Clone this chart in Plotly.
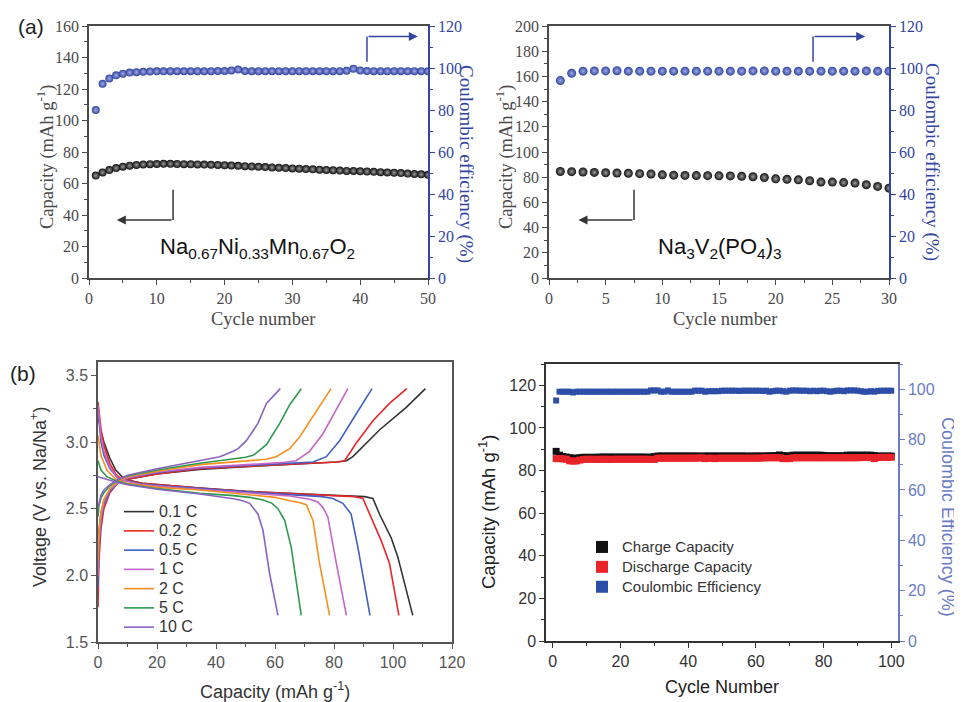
import plotly.graph_objects as go

# ---------------- (a) left : Na0.67Ni0.33Mn0.67O2 ----------------
nnm_cycles = list(range(1, 51))
nnm_capacity = [65.0, 67.0, 68.5, 69.8, 70.7, 71.3, 71.8, 72.1, 72.3, 72.4,
                72.5, 72.5, 72.4, 72.3, 72.2, 72.1, 72.0, 71.9, 71.8, 71.6,
                71.4, 71.2, 71.0, 70.8, 70.6, 70.4, 70.2, 70.0, 69.8, 69.6,
                69.4, 69.2, 69.0, 68.8, 68.6, 68.4, 68.2, 68.0, 68.0, 67.8,
                67.6, 67.4, 67.2, 67.0, 66.8, 66.6, 66.3, 66.0, 65.8, 65.5]
nnm_ce = [80.0, 92.5, 95.0, 96.5, 97.3, 97.8, 98.0, 98.2, 98.3, 98.4,
          98.4, 98.5, 98.5, 98.5, 98.5, 98.5, 98.5, 98.5, 98.6, 98.6,
          98.8, 99.3, 98.6, 98.5, 98.5, 98.5, 98.5, 98.5, 98.5, 98.5,
          98.5, 98.5, 98.5, 98.5, 98.5, 98.5, 98.5, 98.7, 99.6, 98.8,
          98.6, 98.5, 98.5, 98.5, 98.5, 98.5, 98.5, 98.5, 98.5, 98.5]

# ---------------- (a) right : Na3V2(PO4)3 ----------------
nvp_cycles = list(range(1, 31))
nvp_capacity = [84.5, 84.4, 84.1, 83.8, 83.5, 83.3, 83.1, 82.8, 82.5, 81.9,
                81.6, 81.4, 81.3, 81.2, 81.1, 81.0, 80.7, 80.4, 79.8, 78.7,
                78.3, 77.9, 77.2, 76.1, 76.1, 75.7, 75.3, 74.0, 72.7, 71.3]
nvp_ce = [94.0, 97.5, 98.5, 98.6, 98.6, 98.7, 98.5, 98.5, 98.5, 98.5,
          98.5, 98.5, 98.5, 98.5, 98.5, 98.5, 98.5, 98.6, 98.6, 98.5,
          98.5, 98.5, 98.5, 98.5, 98.5, 98.5, 98.5, 98.6, 98.5, 98.5]

# ---------------- (b) left : charge/discharge profiles ----------------
rate_labels = ["0.1 C", "0.2 C", "0.5 C", "1 C", "2 C", "5 C", "10 C"]

chg_01_cap = [0, 0.5, 1, 2, 4, 7, 10, 20, 34.5, 50, 67, 81, 84.2, 86.4, 95.4, 104.5, 111.0]
chg_01_v = [2.26, 2.40, 2.47, 2.56, 2.64, 2.70, 2.72, 2.76, 2.795, 2.815, 2.835, 2.85, 2.86, 2.89, 3.09, 3.26, 3.40]
dis_01_cap = [0, 1, 2, 4, 6, 9, 15, 25, 34.5, 50, 67, 80, 90.4, 93.2, 95.4, 99.4, 101.6, 106.7]
dis_01_v = [3.20, 3.08, 3.00, 2.88, 2.79, 2.72, 2.69, 2.67, 2.655, 2.63, 2.61, 2.60, 2.59, 2.576, 2.46, 2.28, 2.14, 1.70]

chg_02_cap = [0, 0.3, 1, 2, 4, 7, 10, 20, 34.5, 50, 67, 81, 83.6, 87.5, 93.2, 98.8, 104.7]
chg_02_v = [1.76, 2.10, 2.35, 2.50, 2.62, 2.70, 2.72, 2.76, 2.80, 2.815, 2.835, 2.85, 2.86, 2.99, 3.16, 3.29, 3.40]
dis_02_cap = [0, 1, 2, 4, 6, 8, 15, 25, 34.5, 50, 67, 80, 87, 89.8, 92.0, 96.0, 98.8, 102.0]
dis_02_v = [3.30, 3.10, 2.97, 2.84, 2.76, 2.72, 2.69, 2.67, 2.655, 2.63, 2.61, 2.60, 2.59, 2.576, 2.46, 2.26, 2.09, 1.70]

chg_05_cap = [0, 0.3, 1, 2, 4, 7, 10, 20, 34.5, 50, 65, 72.9, 77.4, 81.9, 87.5, 92.9]
chg_05_v = [1.91, 2.20, 2.40, 2.53, 2.63, 2.70, 2.73, 2.77, 2.805, 2.825, 2.84, 2.85, 2.89, 3.01, 3.21, 3.40]
dis_05_cap = [0, 1, 2, 4, 7, 15, 25, 34.5, 50, 65, 76, 79.6, 83.0, 85.8, 88.1, 90.4, 92.2]
dis_05_v = [3.25, 3.00, 2.90, 2.80, 2.72, 2.685, 2.665, 2.65, 2.625, 2.605, 2.59, 2.576, 2.54, 2.46, 2.21, 1.91, 1.70]

chg_1_cap = [0, 0.3, 1, 2, 4, 7, 10, 20, 34.5, 50, 62, 67.2, 71.7, 76.2, 80.8, 84.7]
chg_1_v = [1.99, 2.25, 2.43, 2.55, 2.64, 2.70, 2.73, 2.775, 2.81, 2.83, 2.845, 2.86, 2.93, 3.06, 3.24, 3.40]
dis_1_cap = [0, 1, 2, 4, 7, 15, 25, 34.5, 50, 65, 71.7, 74.5, 76.2, 77.9, 80.8, 84.2]
dis_1_v = [3.28, 3.05, 2.93, 2.81, 2.72, 2.68, 2.66, 2.645, 2.62, 2.595, 2.57, 2.55, 2.51, 2.44, 2.09, 1.70]

chg_2_cap = [0, 0.3, 1, 2, 4, 7, 10, 20, 34.5, 51.4, 57, 60.4, 65.0, 68.4, 72.9, 79.0]
chg_2_v = [2.11, 2.32, 2.47, 2.57, 2.65, 2.71, 2.74, 2.78, 2.83, 2.86, 2.87, 2.89, 2.95, 3.04, 3.19, 3.40]
dis_2_cap = [0, 1, 3, 6, 10, 20, 34.5, 50, 60, 65.0, 68.5, 70.6, 72.9, 75.1, 78.5]
dis_2_v = [3.05, 2.90, 2.79, 2.72, 2.69, 2.66, 2.64, 2.61, 2.585, 2.56, 2.545, 2.53, 2.41, 2.09, 1.70]

chg_5_cap = [0, 0.3, 1, 2, 4, 7, 10, 20, 34.5, 45.8, 50, 52.6, 57.1, 61.6, 65.0, 68.9]
chg_5_v = [2.44, 2.52, 2.58, 2.62, 2.67, 2.72, 2.745, 2.79, 2.84, 2.87, 2.885, 2.90, 2.98, 3.14, 3.28, 3.40]
dis_5_cap = [0, 1, 3, 6, 10, 20, 34.5, 45, 51.4, 56, 59, 61.0, 63.3, 65.5, 68.9]
dis_5_v = [2.86, 2.79, 2.74, 2.71, 2.685, 2.65, 2.615, 2.60, 2.585, 2.565, 2.54, 2.50, 2.41, 2.21, 1.70]

chg_10_cap = [0, 0.5, 1, 2, 4, 7, 10, 20, 34.5, 41.3, 45.8, 47.5, 50.3, 54.2, 57.1, 61.8]
chg_10_v = [2.51, 2.57, 2.60, 2.64, 2.68, 2.72, 2.75, 2.80, 2.86, 2.89, 2.93, 2.95, 3.01, 3.14, 3.29, 3.40]
dis_10_cap = [0, 3, 6, 10, 20, 34.5, 42, 46, 49, 51.4, 54.2, 55.9, 58.2, 61.0]
dis_10_v = [2.74, 2.72, 2.70, 2.68, 2.645, 2.61, 2.59, 2.575, 2.56, 2.54, 2.46, 2.34, 2.01, 1.70]

rate_colors = ["#333333", "#e8262a", "#4160c0", "#c565c5", "#f59020", "#2e9a50", "#8a62c4"]

# ---------------- (b) right : long cycling ----------------
cyc_b = list(range(1, 101))
charge_b = [89.0, 87.2, 86.6, 86.3, 86.0, 85.8, 85.8, 86.0, 86.2, 86.2,
            86.2, 86.2, 86.2, 86.3, 86.3, 86.3, 86.3, 86.3, 86.3, 86.3,
            86.3, 86.3, 86.3, 86.3, 86.3, 86.3, 86.3, 86.2, 86.3, 86.5,
            86.8, 86.8, 86.8, 86.8, 86.8, 86.8, 86.8, 86.8, 86.8, 86.8,
            86.8, 86.8, 86.8, 86.7, 86.8, 86.8, 86.8, 86.8, 86.8, 86.8,
            86.8, 86.8, 86.8, 86.8, 86.8, 86.8, 86.8, 86.7, 86.8, 86.8,
            86.8, 86.8, 86.8, 86.9, 86.9, 87.0, 87.3, 87.0, 86.8, 86.9,
            87.2, 87.2, 87.2, 87.2, 87.2, 87.2, 87.2, 87.2, 87.2, 87.1,
            86.9, 86.9, 86.9, 86.9, 86.9, 86.9, 87.2, 87.2, 87.2, 87.2,
            87.2, 87.2, 87.2, 87.2, 87.0, 86.8, 86.8, 86.8, 86.8, 86.8]
discharge_b = [85.6, 85.6, 85.5, 85.3, 84.6, 84.4, 84.5, 84.9, 85.2, 85.3,
               85.3, 85.3, 85.2, 85.3, 85.3, 85.3, 85.2, 85.3, 85.3, 85.3,
               85.3, 85.3, 85.3, 85.3, 85.3, 85.3, 85.3, 85.3, 85.2, 85.2,
               85.8, 85.8, 85.8, 85.8, 85.8, 85.8, 85.8, 85.8, 85.8, 85.8,
               85.8, 85.8, 85.9, 86.0, 85.6, 85.8, 85.8, 85.6, 85.8, 85.8,
               85.8, 85.8, 85.8, 85.8, 85.8, 85.8, 85.8, 85.8, 85.8, 85.8,
               85.8, 85.9, 86.0, 86.0, 86.0, 86.0, 86.0, 85.6, 85.6, 85.6,
               86.0, 86.0, 86.0, 86.0, 86.0, 86.0, 86.0, 86.0, 86.0, 86.0,
               86.0, 86.0, 86.0, 86.0, 86.0, 86.0, 86.0, 86.0, 86.0, 86.0,
               86.1, 86.1, 86.1, 86.1, 85.6, 86.1, 86.2, 86.2, 86.2, 86.2]
ce_b = [95.5, 99.0, 99.0, 99.0, 99.0, 98.7, 99.0, 99.0, 99.0, 99.0,
        99.0, 99.0, 99.0, 99.0, 99.0, 99.0, 99.0, 99.0, 99.0, 99.0,
        99.0, 99.0, 99.0, 99.0, 99.0, 99.0, 99.0, 99.0, 99.5, 99.5,
        99.5, 99.0, 99.0, 99.5, 99.0, 99.0, 99.0, 99.0, 99.0, 99.0,
        99.0, 99.4, 99.4, 99.4, 99.0, 99.2, 99.2, 99.2, 99.2, 99.4,
        99.4, 99.4, 99.4, 99.4, 99.3, 99.4, 99.4, 99.4, 99.4, 99.4,
        99.4, 99.3, 99.4, 99.0, 99.2, 99.4, 99.4, 99.2, 99.0, 99.4,
        99.5, 99.5, 99.4, 99.4, 99.4, 99.2, 99.4, 99.2, 99.4, 99.4,
        99.2, 99.0, 99.2, 99.4, 99.4, 99.2, 99.5, 99.5, 99.5, 99.4,
        99.2, 99.0, 99.0, 99.2, 99.0, 99.3, 99.4, 99.4, 99.4, 99.4]

# ---------------- styling ----------------
OFF = 8                      # the page body adds an 8 px margin
W, H = 962 - OFF, 702 - OFF
SERIF = "Liberation Serif, Times New Roman, serif"
SANS = "Liberation Sans, Arial, sans-serif"
GREY = "#4a4a4a"
BLUE_A = "#33459f"
BLUE_B = "#2d4ea8"
BLUE_AX = "#6a7cc4"


def fx(px):
    return (px - OFF) / W


def fy(py):
    return 1 - (py - OFF) / H


def px_dom_x(a, b):
    return [fx(a), fx(b)]


def px_dom_y(top, bottom):
    return [fy(bottom), fy(top)]


def ax(domain, rng, dtick, minor, color, font, size, tick0=0, **kw):
    d = dict(domain=domain, range=rng, tick0=tick0, dtick=dtick, ticks="outside",
             ticklen=5, tickwidth=1.2, tickcolor=color, showline=True, linecolor=color,
             linewidth=1.5, showgrid=False, zeroline=False, automargin=False,
             tickfont=dict(family=font, size=size, color=color),
             minor=dict(dtick=minor, ticks="outside", ticklen=3, tickwidth=1,
                        tickcolor=color, showgrid=False))
    d.update(kw)
    return d


fig = go.Figure()

# (a) left
fig.add_trace(go.Scatter(x=nnm_cycles, y=nnm_capacity, mode="markers", xaxis="x", yaxis="y",
                         showlegend=False,
                         marker=dict(size=8, color="#111111", line=dict(width=0),
                                     gradient=dict(type="radial", color="#9a9a9a"))))
fig.add_trace(go.Scatter(x=nnm_cycles, y=nnm_ce, mode="markers", xaxis="x", yaxis="y2",
                         showlegend=False,
                         marker=dict(size=8, color=BLUE_A, line=dict(width=0),
                                     gradient=dict(type="radial", color="#9eaae6"))))
# (a) right
fig.add_trace(go.Scatter(x=nvp_cycles, y=nvp_capacity, mode="markers", xaxis="x2", yaxis="y3",
                         showlegend=False,
                         marker=dict(size=9, color="#111111", line=dict(width=0),
                                     gradient=dict(type="radial", color="#9a9a9a"))))
fig.add_trace(go.Scatter(x=nvp_cycles, y=nvp_ce, mode="markers", xaxis="x2", yaxis="y4",
                         showlegend=False,
                         marker=dict(size=9, color=BLUE_A, line=dict(width=0),
                                     gradient=dict(type="radial", color="#9eaae6"))))

# (b) left
charge_sets = [(chg_01_cap, chg_01_v), (chg_02_cap, chg_02_v), (chg_05_cap, chg_05_v),
               (chg_1_cap, chg_1_v), (chg_2_cap, chg_2_v), (chg_5_cap, chg_5_v),
               (chg_10_cap, chg_10_v)]
discharge_sets = [(dis_01_cap, dis_01_v), (dis_02_cap, dis_02_v), (dis_05_cap, dis_05_v),
                  (dis_1_cap, dis_1_v), (dis_2_cap, dis_2_v), (dis_5_cap, dis_5_v),
                  (dis_10_cap, dis_10_v)]
for i, lab in enumerate(rate_labels):
    cx, cy = charge_sets[i]
    dx, dy = discharge_sets[i]
    fig.add_trace(go.Scatter(x=cx, y=cy, mode="lines",
                             name='<span style="font-size:16px">' + lab + "</span>",
                             legendgroup=lab, xaxis="x3", yaxis="y5", legend="legend",
                             line=dict(color=rate_colors[i], width=1.6)))
    fig.add_trace(go.Scatter(x=dx, y=dy, mode="lines", name=lab, legendgroup=lab,
                             showlegend=False, xaxis="x3", yaxis="y5",
                             line=dict(color=rate_colors[i], width=1.6)))

# (b) right
fig.add_trace(go.Scatter(x=cyc_b, y=charge_b, mode="markers",
                         name='<span style="font-size:15px">Charge Capacity</span>',
                         xaxis="x4", yaxis="y6", legend="legend2",
                         marker=dict(symbol="square", size=7, color="#111111")))
fig.add_trace(go.Scatter(x=cyc_b, y=discharge_b, mode="markers",
                         name='<span style="font-size:15px">Discharge Capacity</span>',
                         xaxis="x4", yaxis="y6", legend="legend2",
                         marker=dict(symbol="square", size=7, color="#e8232a")))
fig.add_trace(go.Scatter(x=cyc_b, y=ce_b, mode="markers",
                         name='<span style="font-size:15px">Coulombic Efficiency</span>',
                         xaxis="x4", yaxis="y7", legend="legend2",
                         marker=dict(symbol="square", size=6, color=BLUE_B)))

# axes (domains given in reference-picture pixels)
dA1x = px_dom_x(89, 428)
dA2x = px_dom_x(549, 889)
dAy = px_dom_y(26, 278)
dB1x = px_dom_x(98, 452)
dB1y = px_dom_y(362, 642)
dB2x = px_dom_x(546, 898)
dB2y = px_dom_y(364, 641)

layout_axes = dict(
    xaxis=ax(dA1x, [0, 50], 10, 5, GREY, SERIF, 16, anchor="y", mirror=True),
    yaxis=ax(dAy, [0, 160], 20, 10, GREY, SERIF, 16, anchor="x"),
    yaxis2=ax(dAy, [0, 120], 20, 10, BLUE_A, SERIF, 16, anchor="x", overlaying="y", side="right"),
    xaxis2=ax(dA2x, [0, 30], 5, 2.5, GREY, SERIF, 16, anchor="y3", mirror=True),
    yaxis3=ax(dAy, [0, 200], 20, 10, GREY, SERIF, 16, anchor="x2"),
    yaxis4=ax(dAy, [0, 120], 20, 10, BLUE_A, SERIF, 16, anchor="x2", overlaying="y3", side="right"),
    xaxis3=ax(dB1x, [0, 120], 20, 10, "#555555", SANS, 16, anchor="y5", mirror=True),
    yaxis5=ax(dB1y, [1.5, 3.6], 0.5, 0.25, "#555555", SANS, 16, tick0=1.5, anchor="x3",
              mirror=True, tickformat=".1f"),
    xaxis4=ax(dB2x, [-2, 102], 20, 10, "#333333", SANS, 16, anchor="y6", mirror=True),
    yaxis6=ax(dB2y, [0, 130], 20, 10, "#333333", SANS, 16, anchor="x4"),
    yaxis7=ax(dB2y, [0, 110], 20, 10, BLUE_AX, SANS, 16, anchor="x4", overlaying="y6", side="right"),
)


def ann(text, x, y, size, color="#333333", font=SANS, angle=0, **kw):
    d = dict(text=text, x=fx(x), y=fy(y), xref="paper", yref="paper", showarrow=False,
             textangle=angle, font=dict(family=font, size=size, color=color),
             xanchor="center", yanchor="middle")
    d.update(kw)
    return d


annotations = [
    ann("(a)", 31, 26, 21, "#222222"),
    ann("(b)", 23, 373, 21, "#222222"),
    # (a) left titles
    ann("Capacity (mAh g<sup>-1</sup>)", 45, 157, 18.5, GREY, SERIF, -90),
    ann("Cycle number", 263, 319, 18.5, GREY, SERIF),
    ann("Coulombic efficiency (%)", 466, 164, 19, BLUE_A, SERIF, 90),
    ann("Na<sub>0.67</sub>Ni<sub>0.33</sub>Mn<sub>0.67</sub>O<sub>2</sub>", 257, 248, 22, "#111111"),
    # (a) right titles
    ann("Capacity (mAh g<sup>-1</sup>)", 504, 157, 18.5, GREY, SERIF, -90),
    ann("Cycle number", 725, 319, 18.5, GREY, SERIF),
    ann("Coulombic efficiency (%)", 932, 162, 19, BLUE_A, SERIF, 90),
    ann("Na<sub>3</sub>V<sub>2</sub>(PO<sub>4</sub>)<sub>3</sub>", 720, 248, 22, "#111111"),
    # (b) left titles
    ann("Voltage (V vs. Na/Na<sup>+</sup>)", 38, 497, 18, "#333333", SANS, -90),
    ann("Capacity (mAh g<sup>-1</sup>)", 275, 690, 18, "#333333"),
    # (b) right titles
    ann("Capacity (mAh g<sup>-1</sup>)", 487, 512, 18.5, "#222222", SANS, -90),
    ann("Cycle Number", 722, 687, 18, "#222222"),
    ann("Coulombic Efficiency (%)", 948, 517, 18, BLUE_AX, SANS, 90),
    # arrows (horizontal arms)
    dict(x=4.1, y=36.8, ax=12.4, ay=36.8, xref="x", yref="y", axref="x", ayref="y",
         showarrow=True, arrowhead=2, arrowsize=1.2, arrowwidth=1.5, arrowcolor="#333333", text=""),
    dict(x=48.5, y=115, ax=41, ay=115, xref="x", yref="y2", axref="x", ayref="y2",
         showarrow=True, arrowhead=2, arrowsize=1.2, arrowwidth=1.5, arrowcolor=BLUE_A, text=""),
    dict(x=2.6, y=46, ax=7.5, ay=46, xref="x2", yref="y3", axref="x2", ayref="y3",
         showarrow=True, arrowhead=2, arrowsize=1.2, arrowwidth=1.5, arrowcolor="#333333", text=""),
    dict(x=27.9, y=115, ax=23.3, ay=115, xref="x2", yref="y4", axref="x2", ayref="y4",
         showarrow=True, arrowhead=2, arrowsize=1.2, arrowwidth=1.5, arrowcolor=BLUE_A, text=""),
]

shapes = [
    dict(type="line", x0=12.4, x1=12.4, y0=56, y1=36.8, xref="x", yref="y",
         line=dict(color="#333333", width=1.5)),
    dict(type="line", x0=41, x1=41, y0=103, y1=115, xref="x", yref="y2",
         line=dict(color=BLUE_A, width=1.5)),
    dict(type="line", x0=7.5, x1=7.5, y0=70, y1=46, xref="x2", yref="y3",
         line=dict(color="#333333", width=1.5)),
    dict(type="line", x0=23.3, x1=23.3, y0=103, y1=115, xref="x2", yref="y4",
         line=dict(color=BLUE_A, width=1.5)),
]

fig.update_layout(
    width=W, height=H, margin=dict(l=0, r=0, t=0, b=0),
    template="none", paper_bgcolor="white", plot_bgcolor="white",
    annotations=annotations, shapes=shapes,
    legend=dict(x=fx(119), y=fy(497), xanchor="left", yanchor="top",
                bgcolor="rgba(0,0,0,0)", font=dict(family=SANS, size=12.5, color="#333333"),
                tracegroupgap=0),
    legend2=dict(x=fx(582), y=fy(532), xanchor="left", yanchor="top",
                 bgcolor="rgba(0,0,0,0)", font=dict(family=SANS, size=13, color="#333333"),
                 itemsizing="constant"),
    **layout_axes,
)

fig.write_html("out.html")
